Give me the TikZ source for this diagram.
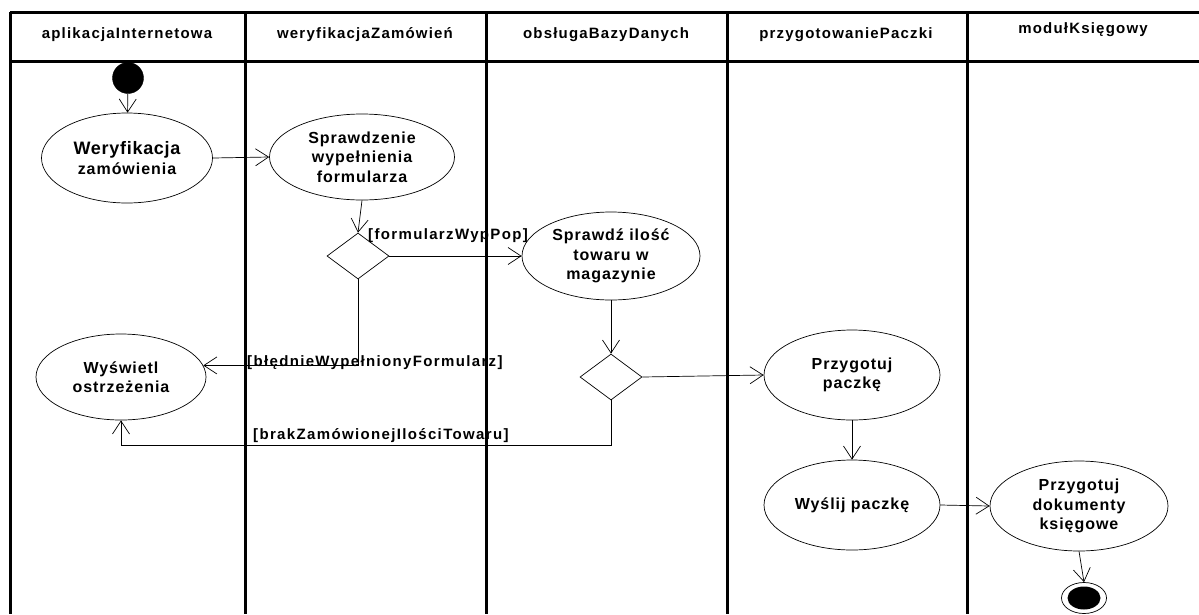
\documentclass[tikz,border=0pt]{standalone}
\usepackage{fontspec}
\setmainfont{Liberation Sans}
\usetikzlibrary{shapes.geometric,arrows.meta}
\newcommand{\hfnt}{\bfseries\fontsize{15}{19.5}\selectfont\addfontfeature{LetterSpace=8}}
\newcommand{\nfont}{\bfseries\fontsize{16}{19.5}\selectfont\addfontfeature{LetterSpace=6}}
\begin{document}
\begin{tikzpicture}[x=1pt,y=-1pt,
  lane/.style={line width=3pt},
  hdr/.style={font=\hfnt},
  act/.style={draw, ellipse, line width=0.7pt, inner sep=0pt, align=center, font=\nfont},
  dec/.style={draw, diamond, line width=0.7pt, inner sep=0pt, minimum width=62pt, minimum height=46pt},
  flow/.style={line width=0.7pt, -{Straight Barb[length=13pt,width=17pt,line width=0.7pt]}},
  guard/.style={font=\hfnt\addfontfeature{LetterSpace=9}, anchor=base west, inner sep=0pt}]
\useasboundingbox (0,0) rectangle (1199,614);
% swimlane frame
\draw[lane] (10,12) -- (1199,12);
\draw[lane] (10,61) -- (1199,61);
\foreach \x in {10,245,486,727,967} \draw[lane] (\x,12) -- (\x,614);
% headers
\node[hdr] (h1) at (127,35) {aplikacjaInternetowa};
\node[hdr] (h2) at (365,35) {weryfikacjaZamówień};
\node[hdr] (h3) at (606,35) {obsługaBazyDanych};
\node[hdr] (h4) at (846,35) {przygotowaniePaczki};
\node[hdr] (h5) at (1083,30) {modułKsięgowy};
% nodes
\node[draw, circle, fill=black, minimum size=31pt, inner sep=0pt] (start) at (128,78) {};
\node[act, minimum width=171pt, minimum height=90pt] (wer) at (127,158)
  {{\fontsize{18}{20}\selectfont\addfontfeature{LetterSpace=4}Weryfikacja}\\zamówienia};
\node[act, minimum width=185pt, minimum height=86pt] (spr) at (362,157)
  {Sprawdzenie\\wypełnienia\\formularza};
\node[dec] (d1) at (358,256) {};
\node[act, minimum width=178pt, minimum height=88pt] (ilosc) at (611,256)
  {Sprawdź ilość\\towaru w\\magazynie};
\node[act, minimum width=170pt, minimum height=86pt] (wys) at (121,377)
  {Wyświetl\\ostrzeżenia};
\node[dec] (d2) at (611,377) {};
\node[act, minimum width=176pt, minimum height=90pt] (pp) at (852,375)
  {Przygotuj\\paczkę};
\node[act, minimum width=176pt, minimum height=90pt] (wp) at (852,505)
  {Wyślij paczkę};
\node[act, minimum width=178pt, minimum height=90pt] (dok) at (1079,506)
  {Przygotuj\\dokumenty\\księgowe};
\node[draw, ellipse, line width=0.7pt, minimum width=45pt, minimum height=31pt, inner sep=0pt] (end) at (1084,598) {};
\node[ellipse, fill=black, minimum width=33pt, minimum height=23pt, inner sep=0pt] (endin) at (1084,598) {};
% connectors
\draw[flow] (start) -- (wer);
\draw[flow] (wer.east) -- (spr.west);
\draw[flow] (spr.south) -- (d1.north);
\draw[flow] (d1.east) -- (ilosc.west);
\draw[flow] (d1.south) |- (wys.8);
\draw[flow] (ilosc.south) -- (d2.north);
\draw[flow] (d2.east) -- (pp.west);
\coordinate (c2) at (611,445);
\draw[flow] (d2.south) -- (c2) -| (wys.south);
\draw[flow] (pp.south) -- (wp.north);
\draw[flow] (wp.east) -- (dok.west);
\draw[flow] (dok.south) -- (end.north);
% guards
\node[guard] (g1) at (368,239) {[formularzWypPop]};
\node[guard] (g2) at (247,366) {[błędnieWypełnionyFormularz]};
\node[guard] (g3) at (253,439) {[brakZamówionejIlościTowaru]};
\end{tikzpicture}
\end{document}
